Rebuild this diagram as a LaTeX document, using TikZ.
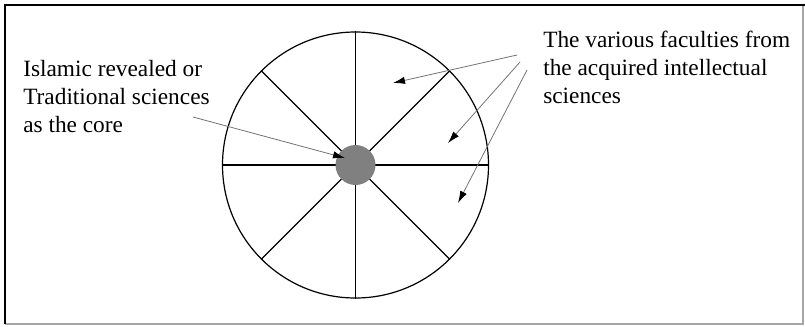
\documentclass[tikz,border=0pt]{standalone}
\usepackage{fontspec}
\setmainfont{Liberation Serif}
\usetikzlibrary{arrows.meta}

\begin{document}
\begin{tikzpicture}[x=0.75pt,y=-0.75pt,
  every node/.style={font=\fontsize{17.5}{21}\selectfont},
  pointer/.style={draw=black!55,line width=0.6pt,-{Latex[length=9pt,width=5.5pt,color=black]}}]
  \useasboundingbox (0,0) rectangle (805,326);
  % frame
  \draw[black!35,line width=0.9pt] (5,324) -- (803,324) -- (803,5);
  \draw[line width=1.2pt] (5,324) -- (5,5) -- (805,5);
  % wheel with eight spokes
  \node[draw,circle,line width=0.9pt,minimum size=199.5pt,inner sep=0pt] (wheel) at (355.5,165) {};
  \foreach \a in {0,45,...,315}
    \draw[line width=0.9pt] (wheel.center) -- (wheel.\a);
  \node[circle,fill=black!50,minimum size=30pt,inner sep=0pt] (core) at (wheel.center) {};
  % labels
  \node[anchor=north west,align=left,inner sep=0pt] (revealed) at (23,60) {Islamic revealed or\\Traditional sciences\\as the core};
  \node[anchor=north west,align=left,inner sep=0pt] (acquired) at (543,31) {The various faculties from\\the acquired intellectual\\sciences};
  % arrows
  \coordinate (rs) at (193,117);
  \coordinate (rt) at (345,158);
  \coordinate (f1) at (517,55);
  \coordinate (f2) at (520,62);
  \coordinate (f3) at (527,70);
  \coordinate (t1) at (393,83);
  \coordinate (t2) at (448,143);
  \coordinate (t3) at (458,203);
  \draw[pointer] (rs) -- (rt);
  \draw[pointer] (f1) -- (t1);
  \draw[pointer] (f2) -- (t2);
  \draw[pointer] (f3) -- (t3);
\end{tikzpicture}
\end{document}
